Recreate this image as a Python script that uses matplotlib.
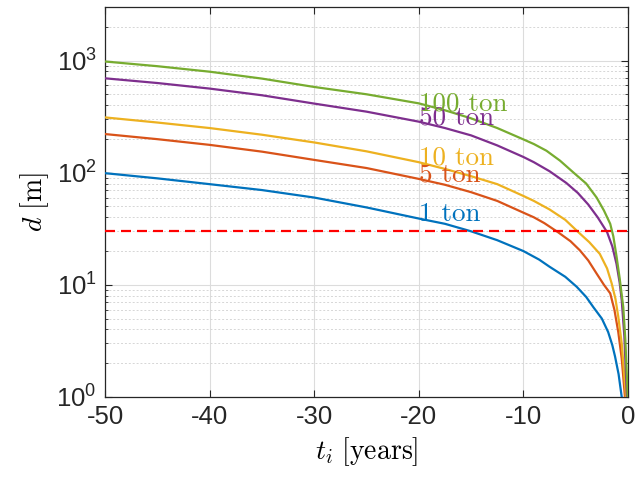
import math
import matplotlib
matplotlib.use("Agg")
import matplotlib.pyplot as plt
from matplotlib.ticker import FixedLocator, FuncFormatter, LogLocator, NullFormatter

plt.rcParams['font.family'] = ['Liberation Sans', 'DejaVu Sans']
plt.rcParams['axes.unicode_minus'] = False

# ---- data ----
t_1ton = [-50, -45, -40, -35, -30, -25, -20, -17.5, -15, -12.5, -10, -8.5, -7.5, -6,
          -4.9, -4, -3.3, -2.5, -1.9, -1.5, -1.24, -0.9, -0.6]
d_1ton = [99, 89, 79, 70, 60, 49, 39, 35, 30, 25, 20, 16.8, 14.5, 11.8,
          9.6, 7.8, 6.3, 5.0, 3.8, 2.9, 2.3, 1.6, 1]

t_5ton = [-50, -45, -40, -35, -30, -25, -20, -17.5, -15, -12.5, -10, -9, -8, -6.7,
          -5.5, -4.6, -3.8, -3.0, -2.3, -1.7, -1.3, -0.93, -0.6, -0.29]
d_5ton = [221, 199, 177, 154, 130, 110, 88, 78, 67, 56, 44, 40, 35.5, 29.5,
          24.5, 20.3, 16.5, 12.6, 10, 8.4, 6, 3.8, 2.2, 1]

t_10ton = [-50, -45, -40, -35, -30, -25, -20, -17.5, -15, -12.5, -10, -9, -7.5, -6,
           -4.75, -3.7, -2.7, -2, -1.56, -1.2, -0.93, -0.6, -0.29, -0.2]
d_10ton = [311, 280, 250, 218, 186, 155, 124, 108, 93, 79, 62, 56, 47, 38,
           29.5, 24, 18.9, 14, 10.3, 7.5, 5.2, 3, 1.3, 1]

t_50ton = [-50, -45, -40, -35, -30, -25, -20, -17.5, -15, -12.5, -10, -9, -7.5, -5.9,
           -4.8, -3.8, -2.9, -2.0, -1.5, -1.1, -0.8, -0.6, -0.35, -0.1]
d_50ton = [694, 630, 562, 490, 413, 350, 285, 250, 215, 175, 138, 124, 103, 81,
           66, 52, 40, 29.5, 22, 15.4, 10.5, 7.3, 3.5, 1]

t_100ton = [-50, -45, -40, -35, -30, -25, -20, -17.5, -15, -12.5, -10, -9, -7.8, -6.5,
            -5.2, -4, -3, -2.3, -1.7, -1.4, -1.1, -0.8, -0.45, -0.25, -0.03]
d_100ton = [980, 890, 795, 690, 581, 500, 415, 360, 305, 250, 198, 180, 157, 128,
            100, 80, 60, 46, 35, 27, 18, 11.5, 6.3, 3.2, 1]

threshold = 30

labels = ['1 ton', '5 ton', '10 ton', '50 ton', '100 ton']
label_x = -20
label_y = [43, 95, 136, 311, 415]

colors = ['#0072BD', '#D95319', '#EDB120', '#7E2F8E', '#77AC30']

xticks = [-50, -40, -30, -20, -10, 0]
yticks = [1, 10, 100, 1000]

# ---- figure ----
fig = plt.figure(figsize=(6.38, 4.79), dpi=100)
ax = fig.add_axes([105/638, 82/479, 523/638, 390/479])

series = [(t_1ton, d_1ton), (t_5ton, d_5ton), (t_10ton, d_10ton),
          (t_50ton, d_50ton), (t_100ton, d_100ton)]
for (t, d), c in zip(series, colors):
    ax.plot(t, d, color=c, lw=1.6, zorder=3)

ax.axhline(threshold, color='#FF0000', lw=1.6, ls='--', dashes=(4.5, 2.7), zorder=4)

for lab, y, c in zip(labels, label_y, colors):
    ax.text(label_x, y, lab, color=c, fontsize=19.5, ha='left', va='center',
            fontfamily='cmr10', zorder=5)

ax.set_yscale('log')
ax.set_xlim(-50, 0)
ax.set_ylim(1, 3000)
ax.xaxis.set_major_locator(FixedLocator(xticks))
ax.yaxis.set_major_locator(FixedLocator(yticks))
ax.yaxis.set_minor_locator(LogLocator(base=10, subs=range(2, 10), numticks=20))
ax.yaxis.set_minor_formatter(NullFormatter())
ax.xaxis.set_major_formatter(FuncFormatter(lambda v, p: f"{int(round(v))}"))


def yfmt(v, p):
    e = int(round(math.log10(v)))
    return r'$\mathregular{10^{%d}}$' % e


ax.yaxis.set_major_formatter(FuncFormatter(yfmt))

ax.grid(which='major', color='#dcdcdc', lw=0.8, ls='-', zorder=0)
ax.yaxis.grid(which='minor', color='#d6d6d6', lw=0.7, ls=(0, (2, 2)), zorder=0)
ax.set_axisbelow(True)

for s in ax.spines.values():
    s.set_color('#262626')
    s.set_linewidth(0.9)

ax.tick_params(which='both', direction='in', top=True, right=True, colors='#262626')
ax.tick_params(which='major', length=5, width=0.8, labelsize=18.5, pad=6)
ax.tick_params(which='minor', length=2.5, width=0.6)
ax.tick_params(axis='x', which='minor', bottom=False, top=False)

ax.set_xlabel(r'$t_i\ [\mathrm{years}]$', fontsize=20, math_fontfamily='cm', labelpad=4)
ax.set_ylabel(r'$d\ [\mathrm{m}]$', fontsize=20, math_fontfamily='cm', labelpad=4)

fig.savefig('out.png', dpi=100)
